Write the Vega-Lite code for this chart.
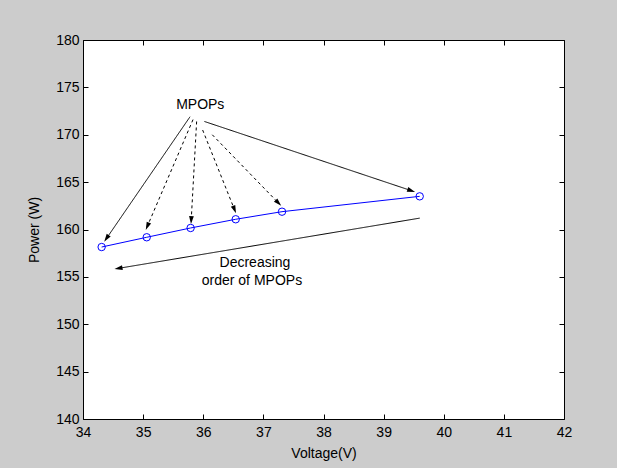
{
  "$schema": "https://vega.github.io/schema/vega-lite/v6.json",
  "width": 481,
  "height": 379,
  "autosize": {"type": "none"},
  "padding": {"left": 83, "top": 40, "right": 53, "bottom": 49},
  "background": "#cccccc",
  "config": {
    "view": {"fill": "white", "stroke": "black", "strokeWidth": 1},
    "font": "Liberation Sans",
    "axis": {
      "grid": false,
      "domain": false,
      "tickColor": "black",
      "tickSize": -5,
      "labelColor": "black",
      "labelFontSize": 14,
      "labelFont": "Liberation Sans",
      "titleFont": "Liberation Sans",
      "titleFontSize": 14,
      "titleFontWeight": "normal",
      "titleColor": "black",
      "labelOverlap": false,
      "labelFlush": false
    }
  },
  "datasets": {
    "points": [
      {"V": 34.31, "P": 158.15},
      {"V": 35.06, "P": 159.18},
      {"V": 35.79, "P": 160.16},
      {"V": 36.54, "P": 161.08},
      {"V": 37.31, "P": 161.88},
      {"V": 39.60, "P": 163.50}
    ],
    "arrows": [
      {"x1": 35.78, "y1": 171.9, "x2": 34.39, "y2": 159.05, "kind": "solid"},
      {"x1": 35.83, "y1": 171.6, "x2": 35.07, "y2": 160.34, "kind": "dashed"},
      {"x1": 35.89, "y1": 171.4, "x2": 35.80, "y2": 161.0, "kind": "dashed"},
      {"x1": 35.99, "y1": 170.5, "x2": 36.52, "y2": 162.1, "kind": "dashed"},
      {"x1": 36.15, "y1": 170.0, "x2": 37.25, "y2": 162.8, "kind": "dashed"},
      {"x1": 36.02, "y1": 171.4, "x2": 39.46, "y2": 164.1, "kind": "solid"},
      {"x1": 39.60, "y1": 161.2, "x2": 34.59, "y2": 155.9, "kind": "solid"}
    ],
    "labels": [
      {"x": 35.95, "y": 173.1, "text": "MPOPs"},
      {"x": 36.86, "y": 156.43, "text": "Decreasing"},
      {"x": 36.81, "y": 154.6, "text": "order of MPOPs"}
    ]
  },
  "resolve": {"axis": {"x": "independent", "y": "independent"}},
  "layer": [
    {
      "data": {"name": "arrows"},
      "mark": {"type": "rule", "color": "black", "strokeWidth": 1},
      "encoding": {
        "x": {"field": "x1", "type": "quantitative", "scale": {"domain": [34, 42], "nice": false, "zero": false},
              "axis": {"orient": "top", "labels": false, "title": null, "values": [34,35,36,37,38,39,40,41,42]}},
        "y": {"field": "y1", "type": "quantitative", "scale": {"domain": [140, 180], "nice": false, "zero": false},
              "axis": {"orient": "right", "labels": false, "title": null, "values": [140,145,150,155,160,165,170,175,180]}},
        "x2": {"field": "x2"},
        "y2": {"field": "y2"},
        "strokeDash": {"field": "kind", "type": "nominal", "scale": {"domain": ["solid", "dashed"], "range": [[1, 0], [3, 3]]}, "legend": null}
      }
    },
    {
      "data": {"name": "arrows"},
      "transform": [
        {"calculate": "atan2((datum.x2 - datum.x1) * 60.125, (datum.y2 - datum.y1) * 9.475) * 180 / PI", "as": "angle"}
      ],
      "mark": {"type": "point", "shape": "M0,-1L0.6,1L-0.6,1Z", "filled": true, "color": "black", "size": 64, "opacity": 1},
      "encoding": {
        "x": {"field": "x2", "type": "quantitative", "scale": {"domain": [34, 42], "nice": false, "zero": false}, "axis": null},
        "y": {"field": "y2", "type": "quantitative", "scale": {"domain": [140, 180], "nice": false, "zero": false}, "axis": null},
        "angle": {"field": "angle", "type": "quantitative", "scale": null}
      }
    },
    {
      "data": {"name": "points"},
      "mark": {"type": "line", "color": "#0000ff", "strokeWidth": 1},
      "encoding": {
        "x": {"field": "V", "type": "quantitative", "scale": {"domain": [34, 42], "nice": false, "zero": false},
              "axis": {"orient": "bottom", "title": "Voltage(V)", "values": [34,35,36,37,38,39,40,41,42], "labelPadding": 11, "titlePadding": 7}},
        "y": {"field": "P", "type": "quantitative", "scale": {"domain": [140, 180], "nice": false, "zero": false},
              "axis": {"orient": "left", "title": "Power (W)", "values": [140,145,150,155,160,165,170,175,180], "labelPadding": 9, "titlePadding": 14}}
      }
    },
    {
      "data": {"name": "points"},
      "mark": {"type": "point", "shape": "circle", "filled": false, "color": "#0000ff", "size": 55, "strokeWidth": 1, "opacity": 1},
      "encoding": {
        "x": {"field": "V", "type": "quantitative", "scale": {"domain": [34, 42], "nice": false, "zero": false}, "axis": null},
        "y": {"field": "P", "type": "quantitative", "scale": {"domain": [140, 180], "nice": false, "zero": false}, "axis": null}
      }
    },
    {
      "data": {"name": "labels"},
      "mark": {"type": "text", "fontSize": 14, "color": "black", "align": "center", "baseline": "middle", "font": "Liberation Sans"},
      "encoding": {
        "x": {"field": "x", "type": "quantitative", "scale": {"domain": [34, 42], "nice": false, "zero": false}, "axis": null},
        "y": {"field": "y", "type": "quantitative", "scale": {"domain": [140, 180], "nice": false, "zero": false}, "axis": null},
        "text": {"field": "text"}
      }
    }
  ]
}
